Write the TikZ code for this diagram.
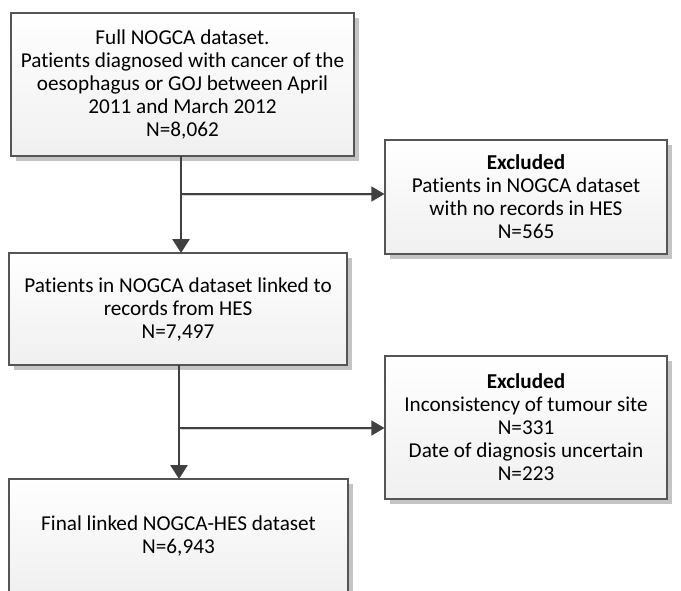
\documentclass[tikz,border=0pt]{standalone}
\usepackage{fontspec}
\setmainfont[Ligatures=NoCommon]{Carlito}
\usetikzlibrary{arrows.meta,shadows}
\definecolor{edgec}{HTML}{555555}
\definecolor{arrc}{HTML}{404040}
\definecolor{shadc}{HTML}{C4C4C4}
\definecolor{lshadc}{HTML}{D4D4D4}
\tikzset{
  flowbox/.style={rectangle, draw=edgec, line width=1.1pt, inner sep=0pt,
    top color=white, bottom color=black!6, align=center,
    font=\fontsize{21.2}{23}\selectfont,
    drop shadow={shadow xshift=5pt, shadow yshift=-5pt, fill=shadc, opacity=1}},
  mainarrow/.style={draw=arrc, line width=2.8pt, -{Triangle[length=14pt,width=17pt]}},
  sidearrow/.style={draw=arrc, line width=1.3pt, -{Triangle[length=13pt,width=15pt]}},
  sideshadow/.style={draw=lshadc, line width=1.2pt}
}
\begin{document}
\begin{tikzpicture}[x=1pt,y=-1pt]
\useasboundingbox (0,0) rectangle (681,590);
\clip (0,0) rectangle (681,590);
\fill[white] (0,0) rectangle (681,590);
% boxes
\node[flowbox, minimum width=343pt, minimum height=143pt] (full) at (182.5,84.5)
  {Full NOGCA dataset.\\Patients diagnosed with cancer of the\\oesophagus or GOJ between April\\2011 and March 2012\\N=8,062};
\node[flowbox, minimum width=282pt, minimum height=114pt] (exc1) at (526,197)
  {\textbf{Excluded}\\Patients in NOGCA dataset\\with no records in HES\\N=565};
\node[flowbox, minimum width=338pt, minimum height=112pt] (linked) at (178,309)
  {Patients in NOGCA dataset linked to\\records from HES\\N=7,497};
\node[flowbox, minimum width=282pt, minimum height=143pt] (exc2) at (526,427.5)
  {\textbf{Excluded}\\Inconsistency of tumour site\\N=331\\Date of diagnosis uncertain\\N=223};
\node[flowbox, minimum width=339pt, minimum height=114pt] (final) at (178.5,536)
  {Final linked NOGCA-HES dataset\\N=6,943};
% connector points
\coordinate (b1) at (181,194);
\coordinate (b2) at (179,428);
\coordinate (t1top) at (181,156);
\coordinate (t1bot) at (181,253);
\coordinate (t2top) at (179,365);
\coordinate (t2bot) at (179,479);
% shadows of side connectors
\draw[sideshadow] ([yshift=-1.6pt,xshift=2pt]b1) -- ([yshift=-1.6pt,xshift=-12pt]b1 -| exc1.west);
\draw[sideshadow] ([yshift=-1.6pt,xshift=2pt]b2) -- ([yshift=-1.6pt,xshift=-12pt]b2 -| exc2.west);
% connectors
\draw[mainarrow] (t1top) -- (t1bot);
\draw[sidearrow] (b1) -- (b1 -| exc1.west);
\draw[mainarrow] (t2top) -- (t2bot);
\draw[sidearrow] (b2) -- (b2 -| exc2.west);
\end{tikzpicture}
\end{document}
